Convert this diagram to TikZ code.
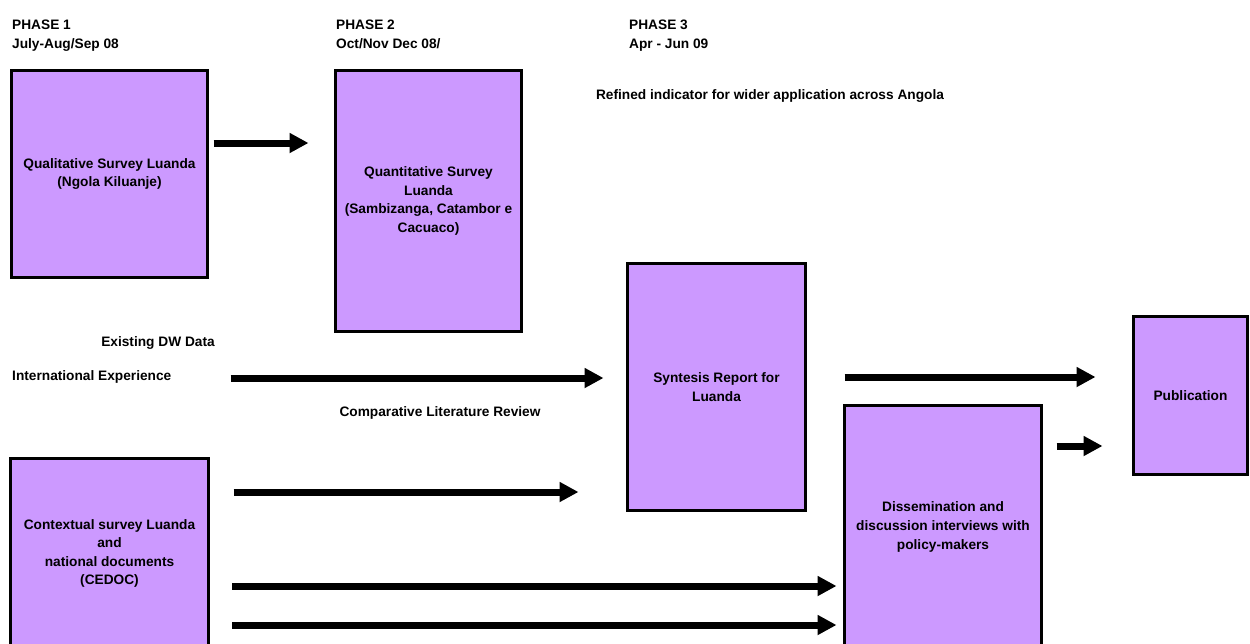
\documentclass[tikz,border=0pt]{standalone}
\usepackage{fontspec}
\setmainfont{Liberation Sans}
\usetikzlibrary{arrows.meta,calc}
\definecolor{boxfill}{RGB}{204,153,255}
\begin{document}
\begin{tikzpicture}[x=1pt,y=-1pt,
  every node/.style={font=\fontsize{13.7}{18.6}\selectfont\bfseries, inner sep=0pt},
  box/.style={draw, line width=3pt, fill=boxfill, align=center},
  lbl/.style={align=left, anchor=north west},
  fat/.style={line width=7pt, -{Triangle[length=19pt,width=19pt]}}]
\useasboundingbox (0,0) rectangle (1250,643);
% phase headers
\node[lbl] (ph1) at (12,20) {PHASE 1\\July-Aug/Sep 08};
\node[lbl] (ph2) at (336,20) {PHASE 2\\Oct/Nov Dec 08/};
\node[lbl] (ph3) at (629,20) {PHASE 3\\Apr - Jun 09};
\node (refined) at (770,96) {Refined indicator for wider application across Angola};
% boxes
\node[box, minimum width=196, minimum height=207] (qual) at (109.5,174) {Qualitative Survey Luanda\\(Ngola Kiluanje)};
\node[box, minimum width=186, minimum height=261] (quant) at (428.5,201) {Quantitative Survey\\Luanda\\(Sambizanga, Catambor e\\Cacuaco)};
\node[box, minimum width=178, minimum height=247] (syn) at (716.5,387) {Syntesis Report for\\Luanda};
\node[box, minimum width=197, minimum height=243] (diss) at (943,527) {Dissemination and\\discussion interviews with\\policy-makers};
\node[box, minimum width=114, minimum height=158] (pub) at (1190.5,395.5) {Publication};
\node[box, minimum width=198, minimum height=190] (ctx) at (109.5,553.5) {Contextual survey Luanda\\and\\national documents\\(CEDOC)};
% free labels
\node (dw) at (158,343) {Existing DW Data};
\node[anchor=west] (intl) at (12,377) {International Experience};
\node (lit) at (440,413) {Comparative Literature Review};
% arrows
\draw[fat, shorten <=4.5pt, shorten >=25.5pt] (qual.east |- 0,143) -- (quant.west |- 0,143);
\draw[fat, shorten <=59pt, shorten >=22.5pt] (intl.east |- 0,378) -- (syn.west |- 0,378);
\draw[fat, shorten <=23.5pt, shorten >=47.5pt] (ctx.east |- 0,492) -- (syn.west |- 0,492);
\draw[fat, shorten <=22pt, shorten >=6.5pt] (ctx.east |- 0,586) -- (diss.west |- 0,586);
\draw[fat, shorten <=22pt, shorten >=6.5pt] (ctx.east |- 0,625) -- (diss.west |- 0,625);
\draw[fat, shorten <=37.5pt, shorten >=36.5pt] (syn.east |- 0,377) -- (pub.west |- 0,377);
\draw[fat, shorten <=13.5pt, shorten >=29.5pt] (diss.east |- 0,446) -- (pub.west |- 0,446);
\end{tikzpicture}
\end{document}
